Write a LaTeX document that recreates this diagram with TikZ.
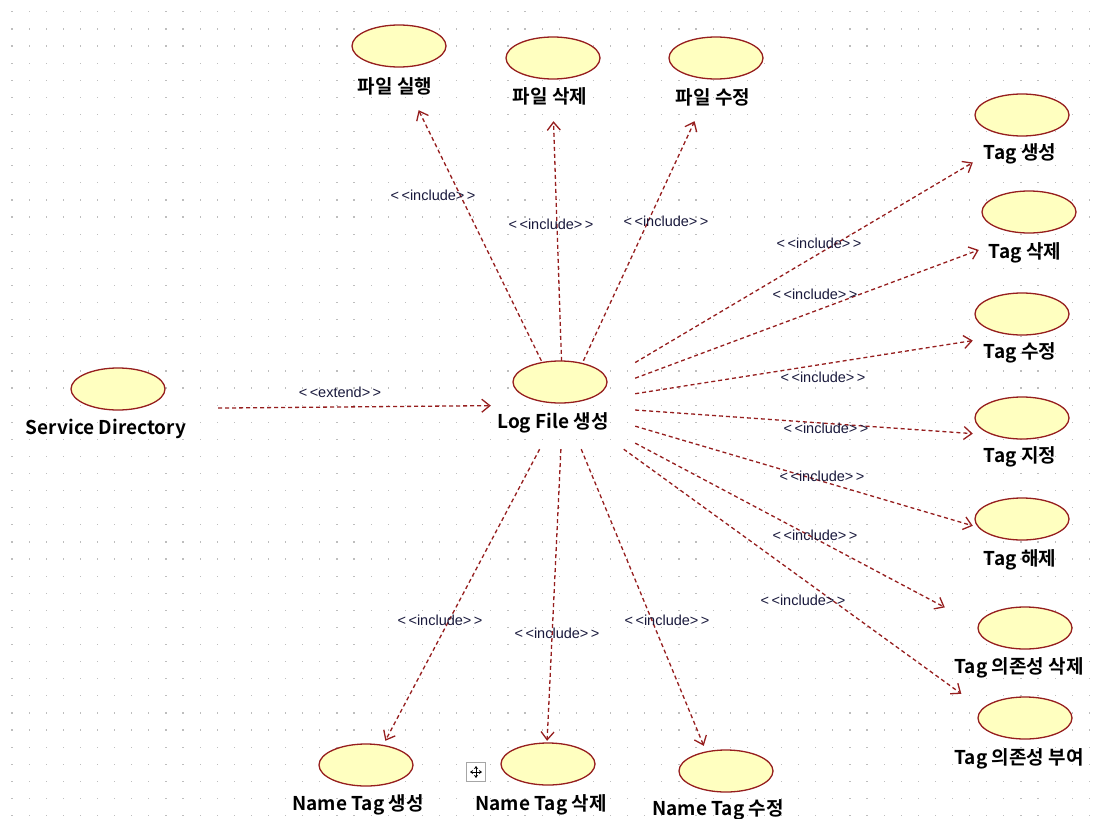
\documentclass[tikz,border=0pt]{standalone}
\usepackage{fontspec}
\setmainfont{Noto Sans CJK KR}[BoldFont={Noto Sans CJK KR Bold}]
\newfontfamily\inclfont{Liberation Sans}
\usepackage{tikz}
\usetikzlibrary{arrows.meta}
\usetikzlibrary{shapes.geometric}
\definecolor{ucline}{RGB}{150,30,30}
\definecolor{ucfill}{RGB}{255,255,192}
\definecolor{griddot}{RGB}{190,190,190}
\definecolor{stereotext}{RGB}{25,25,60}

\begin{document}
\begin{tikzpicture}[x=1pt,y=-1pt]
		\tikzset{usecase/.style={shape = ellipse, draw = ucline, fill = ucfill, line width = 1.3pt, minimum width = 94pt, minimum height = 42pt, inner sep = 0}}
		\tikzset{uclabel/.style={font = \fontsize{19}{22}\selectfont\bfseries, inner sep = 0}}
		\tikzset{ucbox/.style={shape = rectangle, minimum width = 96pt, minimum height = 88pt, inner sep = 0}}
		\tikzset{edge/.style={-{Straight Barb[length = 8pt, width = 13pt, line width = 1.3pt]}, draw = ucline, line width = 1.3pt, dash pattern = on 4pt off 3pt}}
		\tikzset{stereo/.style={font = \inclfont\fontsize{14.5}{16}\selectfont, text = stereotext, inner sep = 1pt}}
					%canvas
					\fill[white] (0,0) rectangle (1101,819);
					\useasboundingbox (0,0) rectangle (1101,819);
					\foreach \i in {0,...,63}
						\foreach \j in {0,...,47}
							\fill[griddot] (11.4+\i*17.1, 12.4+\j*17.1) rectangle +(1.2,-1.2);
					%use cases
					\node[ucbox] (log) at (563, 405) [minimum width = 144pt] {};
					\node[usecase] (log-e) at (560, 382) {};
					\node[uclabel] (log-t) at (553, 423) {Log File 생성};
					\node[ucbox] (svc) at (112, 409) [minimum width = 212pt] {};
					\node[usecase] (svc-e) at (118, 389) {};
					\node[uclabel] (svc-t) at (106, 429) {Service Directory};
					\node[ucbox] (run) at (397, 66) {};
					\node[usecase] (run-e) at (399, 46) {};
					\node[uclabel] (run-t) at (395, 86) {파일 실행};
					\node[ucbox] (fdel) at (552, 77) {};
					\node[usecase] (fdel-e) at (553, 58) {};
					\node[uclabel] (fdel-t) at (550, 96) {파일 삭제};
					\node[ucbox] (fmod) at (715, 77) {};
					\node[usecase] (fmod-e) at (716, 58) {};
					\node[uclabel] (fmod-t) at (713, 97) {파일 수정};
					\node[ucbox] (tnew) at (1021, 134) {};
					\node[usecase] (tnew-e) at (1022, 115) {};
					\node[uclabel] (tnew-t) at (1020, 154) {Tag 생성};
					\node[ucbox] (tdel) at (1027, 232) {};
					\node[usecase] (tdel-e) at (1029, 212) {};
					\node[uclabel] (tdel-t) at (1025, 253) {Tag 삭제};
					\node[ucbox] (tmod) at (1021, 333) {};
					\node[usecase] (tmod-e) at (1022, 314) {};
					\node[uclabel] (tmod-t) at (1020, 353) {Tag 수정};
					\node[ucbox] (tset) at (1021, 437) {};
					\node[usecase] (tset-e) at (1022, 418) {};
					\node[uclabel] (tset-t) at (1020, 457) {Tag 지정};
					\node[ucbox] (tfree) at (1021, 540) {};
					\node[usecase] (tfree-e) at (1022, 519) {};
					\node[uclabel] (tfree-t) at (1020, 560) {Tag 해제};
					\node[ucbox] (ddel) at (1022, 648) [minimum width = 154pt] {};
					\node[usecase] (ddel-e) at (1025, 628) {};
					\node[uclabel] (ddel-t) at (1019, 668) {Tag 의존성 삭제};
					\node[ucbox] (dadd) at (1022, 738) [minimum width = 154pt] {};
					\node[usecase] (dadd-e) at (1025, 718) {};
					\node[uclabel] (dadd-t) at (1019, 759) {Tag 의존성 부여};
					\node[ucbox] (nnew) at (362, 785) {};
					\node[usecase] (nnew-e) at (366, 765) {};
					\node[uclabel] (nnew-t) at (358, 805) {Name Tag 생성};
					\node[ucbox] (ndel) at (545, 785) {};
					\node[usecase] (ndel-e) at (548, 764) {};
					\node[uclabel] (ndel-t) at (541, 805) {Name Tag 삭제};
					\node[ucbox] (nmod) at (722, 790) {};
					\node[usecase] (nmod-e) at (726, 771) {};
					\node[uclabel] (nmod-t) at (718, 810) {Name Tag 수정};
					%move handle
					\node[draw = gray!70, fill = white, line width = 0.9pt, minimum size = 19pt, inner sep = 0] (mv) at (476, 772) {};
					\draw[{Stealth[length = 3pt, width = 4pt]}-{Stealth[length = 3pt, width = 4pt]}, line width = 0.8pt] ([xshift = -6pt]mv.center) -- ([xshift = 6pt]mv.center);
					\draw[{Stealth[length = 3pt, width = 4pt]}-{Stealth[length = 3pt, width = 4pt]}, line width = 0.8pt] ([yshift = -6pt]mv.center) -- ([yshift = 6pt]mv.center);
					%edges
					\draw[edge] (svc) -- (log);
					\draw[edge] (log) -- (run);
					\draw[edge] (log) -- (fdel);
					\draw[edge] (log) -- (fmod);
					\draw[edge] (log) -- (tnew);
					\draw[edge] (log) -- (tdel);
					\draw[edge] (log) -- (tmod);
					\draw[edge] (log) -- (tset);
					\draw[edge] (log) -- (tfree);
					\draw[edge] (log) -- (ddel);
					\draw[edge] (log) -- (dadd);
					\draw[edge] (log) -- (nnew);
					\draw[edge] (log) -- (ndel);
					\draw[edge] (log) -- (nmod);
					%stereotypes
					\node[stereo] (s-svc) at (340, 392) {<\,<extend>\,>};
					\node[stereo] (s-run) at (433, 195) {<\,<include>\,>};
					\node[stereo] (s-fdel) at (551, 224) {<\,<include>\,>};
					\node[stereo] (s-fmod) at (666, 221) {<\,<include>\,>};
					\node[stereo] (s-tnew) at (819, 243) {<\,<include>\,>};
					\node[stereo] (s-tdel) at (815, 294) {<\,<include>\,>};
					\node[stereo] (s-tmod) at (823, 377) {<\,<include>\,>};
					\node[stereo] (s-tset) at (826, 428) {<\,<include>\,>};
					\node[stereo] (s-tfree) at (822, 476) {<\,<include>\,>};
					\node[stereo] (s-ddel) at (815, 535) {<\,<include>\,>};
					\node[stereo] (s-dadd) at (803, 600) {<\,<include>\,>};
					\node[stereo] (s-nnew) at (440, 620) {<\,<include>\,>};
					\node[stereo] (s-ndel) at (557, 633) {<\,<include>\,>};
					\node[stereo] (s-nmod) at (667, 620) {<\,<include>\,>};
					
					\end{tikzpicture}
\end{document}
